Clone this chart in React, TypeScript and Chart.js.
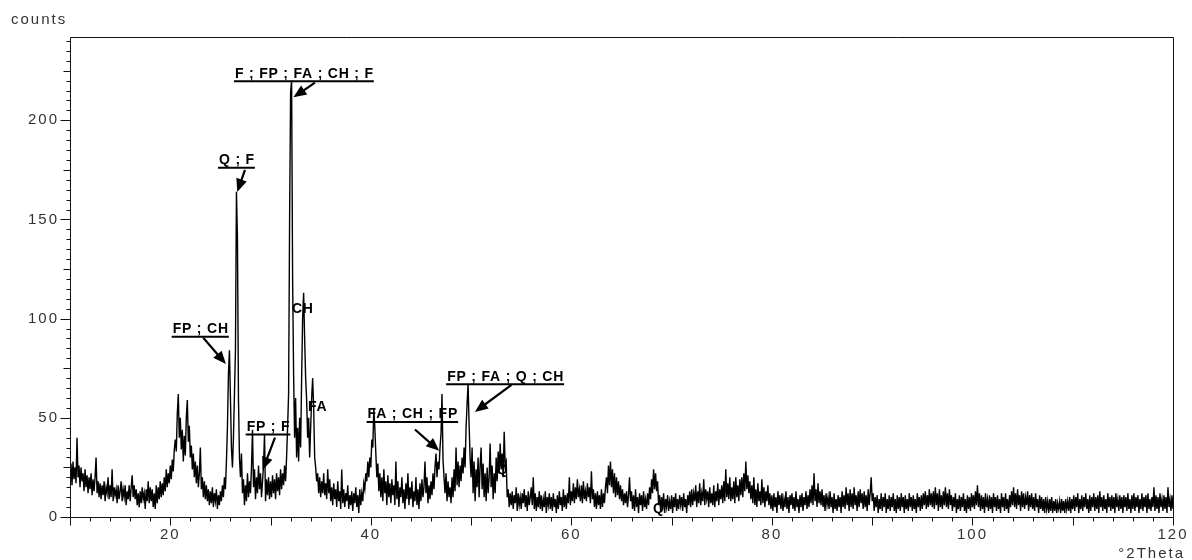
import React, { useEffect, useRef } from 'react';
import { Chart, registerables } from 'chart.js';

Chart.register(...registerables);

// ---- axis ranges and tick labels ----
const X_MIN = 10;
const X_MAX = 120;
const Y_MIN = 0;
const Y_MAX = 242;
const xTickLabels = [20, 40, 60, 80, 100, 120];
const yTickLabels = [0, 50, 100, 150, 200];

const seg1Start = 10.0;
const seg1Step = 0.1;
const counts10to19 = [
  22, 27, 16, 28, 19, 25, 17, 40, 20, 26,
  15, 25, 18, 22, 13, 24, 15, 21, 12, 20,
  14, 22, 11, 19, 13, 20, 30, 12, 18, 10,
  17, 9, 16, 11, 18, 8, 15, 12, 20, 9,
  16, 10, 24, 8, 15, 11, 14, 7, 16, 9,
  13, 18, 8, 14, 10, 16, 6, 13, 9, 16,
  8, 15, 21, 10, 16, 9, 14, 6, 12, 5,
  13, 7, 15, 9, 12, 4, 14, 8, 18, 7,
  15, 8, 14, 5, 12, 4, 16, 7, 15, 9,
];

const seg2Start = 19.0;
const seg2Step = 0.1;
const counts19to56 = [
  18, 10, 17, 11, 20, 13, 24, 15, 22, 17,
  26, 19, 29, 23, 34, 39, 33, 52, 62, 40,
  50, 34, 44, 28, 41, 31, 50, 59, 38, 46,
  30, 36, 24, 32, 20, 28, 17, 26, 15, 22,
  35, 14, 20, 10, 18, 9, 16, 8, 14, 6,
  13, 7, 15, 5, 12, 8, 14, 4, 11, 6,
  13, 8, 16, 10, 20, 14, 28, 45, 72, 84,
  60, 35, 25, 40, 62, 84, 164, 140, 60, 30,
  20, 32, 12, 19, 6, 16, 8, 22, 10, 18,
  12, 25, 44, 15, 24, 9, 20, 12, 26, 14,
  22, 10, 18, 26, 42, 8, 19, 11, 20, 9,
  18, 10, 21, 12, 19, 9, 22, 13, 20, 11,
  24, 14, 22, 16, 26, 18, 30, 45, 62, 150,
  214, 220, 120, 72, 40, 60, 30, 45, 28, 50,
  35, 70, 100, 113, 90, 70, 59, 40, 50, 30,
  45, 60, 70, 55, 30, 25, 18, 22, 12, 20,
  10, 18, 12, 22, 11, 17, 9, 24, 12, 19,
  8, 15, 6, 17, 9, 14, 5, 18, 8, 13,
  4, 24, 7, 14, 5, 12, 8, 16, 4, 11,
  6, 13, 3, 12, 7, 15, 5, 11, 2, 14,
  6, 12, 8, 17, 14, 22, 18, 28, 20, 30,
  25, 39, 35, 55, 45, 32, 20, 27, 13, 22,
  10, 20, 8, 24, 12, 18, 6, 21, 10, 17,
  7, 19, 11, 16, 6, 28, 9, 18, 5, 15,
  10, 20, 7, 14, 4, 17, 9, 22, 6, 15,
  9, 18, 5, 13, 8, 20, 6, 14, 4, 17,
  8, 19, 10, 15, 28, 12, 20, 7, 16, 9,
  18, 11, 22, 14, 25, 32, 20, 28, 24, 35,
  42, 62, 29, 20, 12, 22, 8, 18, 10, 15,
  7, 20, 10, 24, 13, 35, 16, 28, 15, 26,
  18, 30, 22, 35, 25, 45, 57, 67, 47, 30,
  20, 35, 12, 28, 8, 24, 15, 30, 10, 26,
  35, 14, 27, 10, 22, 8, 25, 12, 20, 37,
  15, 26, 9, 22, 12, 30, 18, 33, 22, 37,
  24, 32, 20, 43, 26, 28, 10, 14, 5, 12,
  6, 13, 4, 11, 7, 15, 3, 12, 6, 10,
  4, 12, 7, 14, 5, 11, 3, 13, 6, 10,
  15,
];

const seg3Start = 56.1;
const seg3Step = 0.1;
const counts56to120 = [
  6, 20, 4, 12, 3, 10, 5, 13, 4,
  11, 3, 9, 5, 13, 2, 10, 6, 12, 4,
  10, 3, 12, 5, 9, 2, 11, 4, 13, 6,
  10, 3, 14, 5, 11, 4, 12, 7, 20, 6,
  13, 8, 17, 7, 15, 9, 19, 10, 14, 8,
  16, 7, 18, 9, 13, 8, 17, 10, 15, 7,
  23, 9, 14, 5, 12, 4, 13, 6, 11, 4,
  14, 5, 12, 7, 15, 20, 12, 26, 16, 28,
  15, 24, 12, 22, 10, 20, 11, 18, 9, 16,
  8, 14, 6, 12, 7, 13, 5, 11, 20, 8,
  13, 4, 11, 3, 14, 5, 10, 2, 12, 6,
  11, 3, 13, 5, 9, 4, 12, 6, 15, 9,
  19, 12, 24, 14, 22, 13, 18, 6, 11, 3,
  10, 4, 12, 2, 9, 5, 11, 3, 8, 4,
  11, 2, 10, 5, 12, 3, 9, 4, 11, 6,
  10, 3, 12, 5, 9, 2, 11, 6, 13, 5,
  14, 6, 12, 8, 16, 5, 13, 7, 17, 6,
  12, 8, 19, 6, 14, 9, 13, 5, 15, 7,
  12, 6, 16, 5, 13, 8, 17, 6, 14, 9,
  16, 7, 18, 8, 24, 10, 17, 9, 20, 8,
  15, 9, 18, 7, 20, 10, 16, 8, 19, 11,
  20, 10, 22, 13, 28, 14, 21, 12, 18, 9,
  16, 7, 20, 6, 14, 5, 17, 8, 13, 6,
  19, 7, 15, 5, 13, 8, 16, 6, 12, 4,
  11, 3, 12, 5, 10, 2, 13, 6, 11, 4,
  12, 3, 9, 5, 13, 4, 10, 2, 11, 6,
  12, 4, 10, 3, 13, 5, 9, 2, 11, 5,
  12, 3, 10, 6, 13, 4, 11, 5, 14, 7,
  16, 6, 22, 8, 14, 5, 17, 7, 13, 6,
  14, 5, 11, 3, 12, 6, 10, 4, 13, 5,
  10, 2, 12, 4, 9, 3, 11, 5, 10, 2,
  13, 5, 11, 4, 15, 6, 12, 3, 14, 5,
  12, 4, 15, 6, 11, 3, 13, 5, 14, 7,
  12, 4, 13, 5, 11, 3, 14, 6, 12, 20,
  8, 12, 3, 10, 5, 11, 2, 9, 4, 12,
  3, 10, 5, 12, 2, 9, 4, 11, 3, 10,
  5, 12, 3, 9, 2, 11, 4, 10, 3, 12,
  5, 10, 2, 11, 4, 9, 3, 12, 5, 10,
  3, 11, 4, 9, 2, 12, 5, 10, 3, 11,
  4, 12, 6, 13, 4, 11, 5, 14, 6, 12,
  5, 13, 4, 15, 6, 12, 3, 14, 5, 11,
  4, 13, 6, 15, 5, 12, 4, 14, 6, 11,
  3, 10, 5, 12, 2, 9, 4, 11, 3, 10,
  5, 12, 3, 9, 2, 11, 4, 10, 3, 12,
  5, 11, 4, 13, 6, 16, 5, 12, 3, 11,
  4, 10, 2, 12, 5, 9, 3, 11, 4, 10,
  2, 12, 5, 10, 3, 11, 4, 9, 2, 12,
  5, 10, 3, 12, 4, 9, 2, 11, 5, 13,
  6, 15, 5, 12, 4, 14, 6, 11, 3, 13,
  5, 12, 4, 10, 6, 13, 3, 11, 5, 12,
  4, 10, 3, 12, 5, 9, 2, 11, 4, 10,
  3, 9, 2, 10, 4, 8, 2, 9, 3, 10,
  2, 8, 3, 9, 2, 7, 4, 8, 2, 9,
  3, 8, 2, 9, 4, 8, 3, 10, 2, 9,
  4, 11, 3, 10, 5, 12, 2, 9, 4, 11,
  3, 10, 5, 12, 4, 9, 2, 11, 3, 10,
  5, 12, 3, 10, 4, 11, 2, 13, 5, 10,
  3, 11, 4, 9, 2, 12, 5, 10, 3, 11,
  4, 10, 2, 12, 5, 9, 3, 11, 4, 10,
  2, 11, 5, 10, 3, 12, 4, 9, 2, 11,
  4, 12, 3, 10, 5, 11, 2, 9, 4, 12,
  3, 10, 5, 11, 2, 12, 4, 9, 3, 10,
  5, 15, 3, 11, 4, 10, 2, 12, 5, 9,
  3, 11, 4, 10, 2, 15, 5, 9, 3, 11,
  4,
];

// ---- phase identification labels (in data coordinates) ----
type PhaseLabel = {
  text: string;
  x: number;
  y: number;
  underline: boolean;
  arrow?: [number, number, number, number];
};
const phaseLabels: PhaseLabel[] = [
  { text: 'F ; FP ; FA ; CH ; F', x: 26.45, y: 221.4, underline: true, arrow: [34.43, 219.0, 32.28, 211.6] },
  { text: 'Q ; F', x: 24.86, y: 177.8, underline: true, arrow: [27.45, 175.0, 26.68, 163.9] },
  { text: 'FP ; CH', x: 20.24, y: 92.7, underline: true, arrow: [23.29, 90.4, 25.55, 77.1] },
  { text: 'CH', x: 32.13, y: 102.8, underline: false },
  { text: 'FA', x: 33.73, y: 53.4, underline: false },
  { text: 'FP ; F', x: 27.62, y: 43.3, underline: true, arrow: [30.44, 40.0, 29.21, 23.7] },
  { text: 'FA ; CH ; FP', x: 39.68, y: 49.7, underline: true, arrow: [44.4, 44.1, 46.82, 33.4] },
  { text: 'FP ; FA ; Q ; CH', x: 47.61, y: 68.7, underline: true, arrow: [54.03, 66.6, 50.38, 53.0] },
  { text: 'Q', x: 52.57, y: 21.7, underline: false },
  { text: 'Q', x: 68.13, y: 2.0, underline: false },
];

function toPoints(start: number, step: number, values: number[]) {
  return values.map((v, i) => ({ x: +(start + i * step).toFixed(3), y: v }));
}

const AXIS_FONT = '15px "Liberation Sans", Arial, sans-serif';
const LABEL_FONT = 'bold 14px "Liberation Sans", Arial, sans-serif';
const TEXT_COLOR = '#333333';

function drawArrow(ctx: CanvasRenderingContext2D, x1: number, y1: number, x2: number, y2: number) {
  const ang = Math.atan2(y2 - y1, x2 - x1);
  const headLen = 13;
  const headW = 5.5;
  const bx = x2 - headLen * Math.cos(ang);
  const by = y2 - headLen * Math.sin(ang);
  ctx.lineWidth = 2.2;
  ctx.beginPath();
  ctx.moveTo(x1, y1);
  ctx.lineTo(bx + 1 * Math.cos(ang), by + 1 * Math.sin(ang));
  ctx.stroke();
  ctx.beginPath();
  ctx.moveTo(x2, y2);
  ctx.lineTo(bx + headW * Math.sin(ang), by - headW * Math.cos(ang));
  ctx.lineTo(bx - headW * Math.sin(ang), by + headW * Math.cos(ang));
  ctx.closePath();
  ctx.fill();
}

const xrdPlugin = {
  id: 'xrdDecor',
  beforeDraw(chart: any) {
    (chart.ctx as any).letterSpacing = '2px';
  },
  beforeDatasetsDraw(chart: any) {
    const ctx: CanvasRenderingContext2D = chart.ctx;
    const xs = chart.scales.x;
    const ys = chart.scales.y;
    ctx.save();
    (ctx as any).letterSpacing = '0.8px';
    ctx.font = LABEL_FONT;
    ctx.fillStyle = '#000';
    ctx.strokeStyle = '#000';
    ctx.textAlign = 'left';
    ctx.textBaseline = 'alphabetic';
    for (const l of phaseLabels) {
      const px = xs.getPixelForValue(l.x);
      const py = ys.getPixelForValue(l.y);
      ctx.fillText(l.text, px, py);
      if (l.underline) {
        const w = ctx.measureText(l.text).width;
        ctx.lineWidth = 2;
        ctx.beginPath();
        ctx.moveTo(px - 1, py + 3.5);
        ctx.lineTo(px + w, py + 3.5);
        ctx.stroke();
      }
      if (l.arrow) {
        const [tx, ty, hx, hy] = l.arrow;
        drawArrow(
          ctx,
          xs.getPixelForValue(tx),
          ys.getPixelForValue(ty),
          xs.getPixelForValue(hx),
          ys.getPixelForValue(hy)
        );
      }
    }
    ctx.restore();
  },
  afterDraw(chart: any) {
    const ctx: CanvasRenderingContext2D = chart.ctx;
    const { left, right, top, bottom } = chart.chartArea;
    const xs = chart.scales.x;
    const ys = chart.scales.y;
    ctx.save();
    ctx.strokeStyle = '#111';
    ctx.lineWidth = 1;
    const L = Math.round(left) + 0.5;
    const R = Math.round(right) + 0.5;
    const T = Math.round(top) + 0.5;
    const B = Math.round(bottom) + 0.5;
    ctx.beginPath();
    ctx.moveTo(L, T);
    ctx.lineTo(R, T);
    ctx.lineTo(R, B);
    ctx.lineTo(L, B);
    ctx.closePath();
    ctx.stroke();
    // x ticks (every 2, long every 10)
    ctx.beginPath();
    for (let v = X_MIN; v <= X_MAX; v += 2) {
      const px = Math.round(xs.getPixelForValue(v)) + 0.5;
      const len = v % 10 === 0 ? 8 : 4;
      ctx.moveTo(px, B);
      ctx.lineTo(px, B + len);
    }
    // y ticks (every 5, medium every 25, long every 50)
    for (let v = Y_MIN; v <= 240; v += 5) {
      const py = Math.round(ys.getPixelForValue(v)) + 0.5;
      const len = v % 50 === 0 ? 10 : v % 25 === 0 ? 7 : 4;
      ctx.moveTo(L, py);
      ctx.lineTo(L - len, py);
    }
    ctx.stroke();
    // axis titles
    (ctx as any).letterSpacing = '2px';
    ctx.font = AXIS_FONT;
    ctx.fillStyle = TEXT_COLOR;
    ctx.textBaseline = 'alphabetic';
    ctx.textAlign = 'left';
    ctx.fillText('counts', 11, 24);
    ctx.textAlign = 'right';
    ctx.fillText('°2Theta', 1185, 558);
    ctx.restore();
  },
};

export default function App() {
  const canvasRef = useRef<HTMLCanvasElement | null>(null);

  useEffect(() => {
    document.body.style.margin = '0';
    const canvas = canvasRef.current;
    if (!canvas) return;
    const data = [
      ...toPoints(seg1Start, seg1Step, counts10to19),
      ...toPoints(seg2Start, seg2Step, counts19to56),
      ...toPoints(seg3Start, seg3Step, counts56to120),
    ];
    const chart = new Chart(canvas, {
      type: 'line',
      data: {
        datasets: [
          {
            data,
            borderColor: '#000',
            borderWidth: 1.4,
            pointRadius: 0,
            tension: 0,
            fill: false,
            borderJoinStyle: 'miter',
          },
        ],
      },
      options: {
        animation: false,
        responsive: false,
        devicePixelRatio: 1,
        events: [],
        layout: { padding: { left: 0, top: 37, right: 19, bottom: 0 } },
        plugins: {
          legend: { display: false },
          tooltip: { enabled: false },
          title: { display: false },
        },
        scales: {
          x: {
            type: 'linear',
            min: X_MIN,
            max: X_MAX,
            grid: { display: false, drawTicks: false },
            border: { display: false },
            ticks: {
              stepSize: 10,
              autoSkip: false,
              maxRotation: 0,
              padding: 9,
              color: TEXT_COLOR,
              font: { family: '"Liberation Sans", Arial, sans-serif', size: 15 },
              callback: (v: any) => (xTickLabels.includes(Number(v)) ? String(v) : ''),
            },
            afterFit: (s: any) => {
              s.height = 43;
              s.paddingLeft = 0;
              s.paddingRight = 0;
            },
          },
          y: {
            type: 'linear',
            min: Y_MIN,
            max: Y_MAX,
            grid: { display: false, drawTicks: false },
            border: { display: false },
            ticks: {
              stepSize: 50,
              autoSkip: false,
              padding: 11,
              color: TEXT_COLOR,
              font: { family: '"Liberation Sans", Arial, sans-serif', size: 15 },
              callback: (v: any) => (yTickLabels.includes(Number(v)) ? String(v) : ''),
            },
            afterFit: (s: any) => {
              s.width = 70;
              s.paddingTop = 0;
              s.paddingBottom = 0;
            },
          },
        },
      },
      plugins: [xrdPlugin],
    } as any);
    return () => chart.destroy();
  }, []);

  return (
    <div style={{ width: 1192, height: 560, background: '#fff' }}>
      <canvas ref={canvasRef} width={1192} height={560} style={{ display: 'block' }} />
    </div>
  );
}
